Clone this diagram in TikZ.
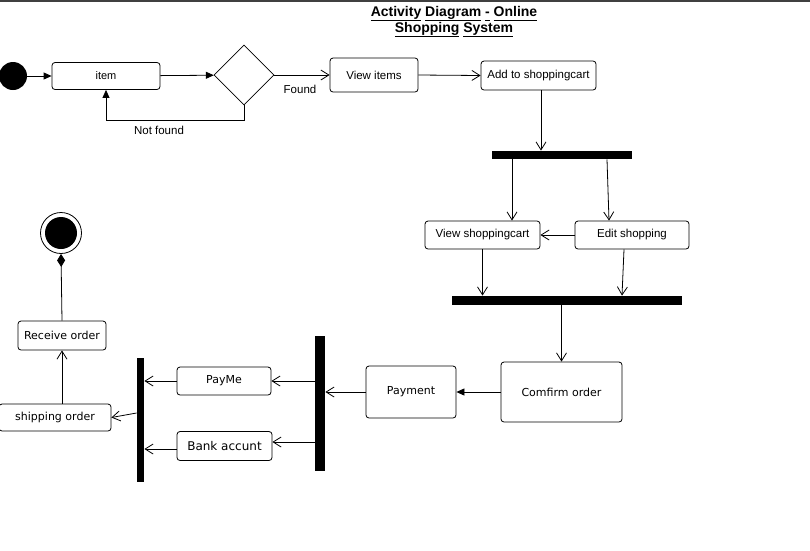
\documentclass[tikz,border=0pt]{standalone}
\usepackage{fontspec}
\setmainfont{Liberation Sans}
\newfontfamily\dvsans{DejaVu Sans}
\usetikzlibrary{shapes.geometric,arrows.meta}
% underline each word at one common depth
\newcommand{\wordline}[1]{\underline{\vphantom{gy}#1}}

\begin{document}
\begin{tikzpicture}[x=1pt,y=-1pt,
  line width=0.8pt,
  act/.style={draw, rounded corners=3pt, inner sep=0pt, align=center,
              font=\fontsize{11.5}{13}\selectfont},
  actb/.style={act, font=\dvsans\fontsize{11}{13}\selectfont},
  bar/.style={fill=black, draw=none, inner sep=0pt},
  flow/.style={-{Straight Barb[length=8pt,width=10pt]}},
  solid flow/.style={-{Triangle[length=8pt,width=7pt]}},
  lbl/.style={font=\fontsize{11.5}{13}\selectfont, inner sep=0pt}
]
\useasboundingbox (0,0) rectangle (810,550);
\fill[white] (0,0) rectangle (810,550);
\draw[black!75, line width=2pt] (0,1) -- (810,1);

% title
\node[font=\bfseries\fontsize{14}{14.5}\selectfont, align=center, inner sep=0pt] (title) at (454,21.5)
  {\wordline{Activity} \wordline{Diagram} \wordline{-} \wordline{Online}\\
   \wordline{Shopping} \wordline{System}};

% start, item selection and decision
\node[circle, fill=black, minimum size=28pt, inner sep=0pt] (start) at (13,76) {};
\node[act, minimum width=108pt, minimum height=27pt, font=\fontsize{11}{13}\selectfont] (item) at (106,76) {item};
\node[diamond, draw, minimum width=60pt, minimum height=60pt, inner sep=0pt] (dec) at (244,75) {};
\node[act, minimum width=88pt, minimum height=34pt] (view) at (374,75) {View items};
\node[act, minimum width=115pt, minimum height=29pt] (add) at (538.5,75.5) {Add to shoppingcart};

% cart fork / join
\node[bar, minimum width=140pt, minimum height=8pt] (bar1) at (562,155) {};
\node[act, minimum width=115pt, minimum height=28pt] (vcart) at (482.5,235) {View shoppingcart};
\node[act, minimum width=114pt, minimum height=28pt] (edit) at (632,235) {Edit shopping};
\node[bar, minimum width=230pt, minimum height=9pt] (bar2) at (567,300.5) {};

% ordering and payment
\node[actb, minimum width=121pt, minimum height=60pt] (confirm) at (561.5,392) {Comfirm order};
\node[actb, minimum width=90pt, minimum height=52pt] (payment) at (411,392) {Payment};
\node[bar, minimum width=10pt, minimum height=135pt] (bar3) at (320,403.5) {};
\node[actb, minimum width=94pt, minimum height=28pt] (payme) at (224,381) {PayMe};
\node[actb, minimum width=95pt, minimum height=29pt, font=\dvsans\fontsize{12}{14}\selectfont] (bank) at (224.5,446) {Bank accunt};
\node[bar, minimum width=7pt, minimum height=124pt] (bar4) at (140.5,420) {};

% delivery and end
\node[actb, minimum width=112pt, minimum height=27pt] (ship) at (55,417.5) {shipping order};
\node[actb, minimum width=88pt, minimum height=29pt] (recv) at (62,335.5) {Receive order};
\node[circle, draw, minimum size=41pt, inner sep=0pt,
      path picture={\fill (path picture bounding box.center) circle (16pt);}] (final) at (61,233) {};

% labels
\node[lbl] (found) at (300,89) {Found};
\node[lbl] (notfound) at (159,130) {Not found};

% connectors
\draw[solid flow] (start) -- (item);
\draw[solid flow] (item) -- (dec);
\draw[solid flow] (dec.south) -- ++(0,15) -| (item.south);
\draw[flow] (dec.east) -- (view.west);
\draw[flow] (view.east) -- (add.west);
\draw[flow] ([xshift=2.5pt]add.south) -- ([xshift=2.5pt]add.south |- bar1.north);
\draw[flow] ([xshift=29.5pt]vcart.north |- bar1.south) -- ([xshift=29.5pt]vcart.north);
\draw[flow] ([xshift=-25pt]edit.north |- bar1.south) -- ([xshift=-23pt]edit.north);
\draw[flow] (edit.west) -- (vcart.east);
\draw[flow] (vcart.south) -- (vcart.south |- bar2.north);
\draw[flow] ([xshift=-8pt]edit.south) -- ([xshift=-10pt]edit.south |- bar2.north);
\draw[flow] (confirm.north |- bar2.south) -- (confirm.north);
\draw[solid flow] (confirm.west) -- (payment.east);
\draw[flow] (payment.west) -- (payment.west -| bar3.east);
\draw[flow] (payme.east -| bar3.west) -- (payme.east);
\draw[flow] ([yshift=4pt]bank.east -| bar3.west) -- ([yshift=4pt]bank.east);
\draw[flow] (payme.west) -- (payme.west -| bar4.east);
\draw[flow] ([yshift=-3pt]bank.west) -- ([yshift=-3pt]bank.west -| bar4.east);
\draw[flow] ([yshift=4.5pt]ship.east -| bar4.west) -- (ship.east);
\draw[flow] (recv.south |- ship.north) -- (recv.south);
\draw[-{Diamond[length=13pt,width=8pt]}] (recv.north) -- (final.south);
\end{tikzpicture}
\end{document}
